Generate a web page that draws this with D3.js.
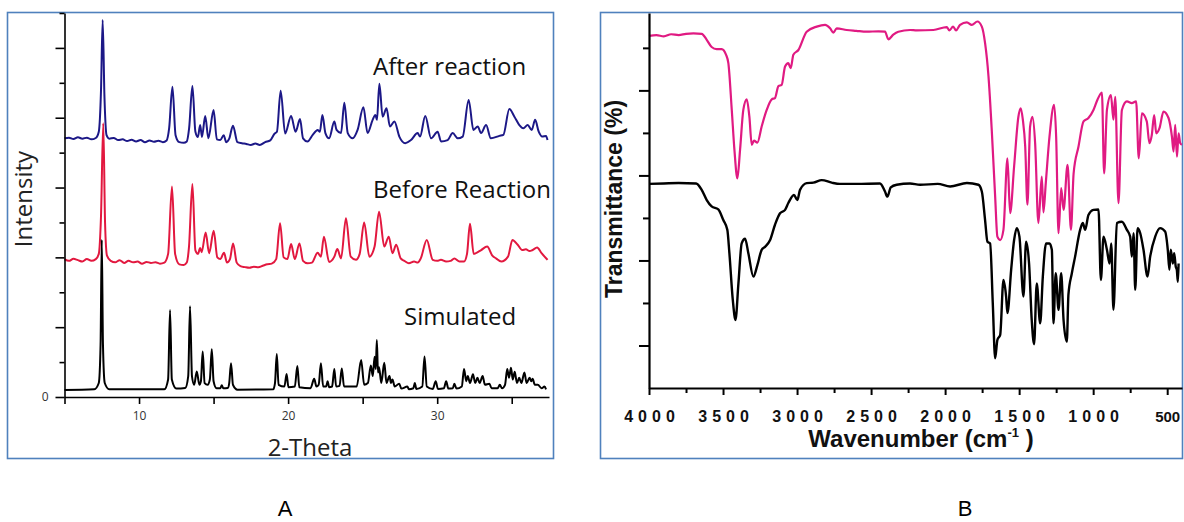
<!DOCTYPE html>
<html><head><meta charset="utf-8">
<script src="https://cdn.jsdelivr.net/npm/d3@7/dist/d3.min.js"></script>
<style>body{margin:0;background:#fff}svg{display:block}</style>
</head><body>
<svg id="c" width="1184" height="522"></svg>
<script>
// ---------- Panel A: PXRD ----------
const xrdXTicks = [5, 10, 15, 20, 25, 30, 35];
const xrdXLabels = [10, 20, 30];
const xrdYTicks = [0,1,2,3,4,5,6,7,8,9,10,11];
const xrdSeriesNames = ["After reaction", "Before Reaction", "Simulated"];
const simulated = [[5.0,0.2],[7.0,0.22],[7.3,0.4],[7.42,1.5],[7.5,4.5],[7.58,1.5],[7.7,0.4],[8.0,0.22],[11.7,0.22],[11.95,0.5],[12.08,2.49],[12.2,0.5],[12.5,0.24],[13.1,0.26],[13.3,0.6],[13.42,2.6],[13.55,0.6],[13.7,0.35],[13.87,0.73],[14.05,0.35],[14.15,0.45],[14.27,1.3],[14.4,0.4],[14.6,0.35],[14.75,0.5],[14.88,1.37],[15.0,0.45],[15.2,0.25],[15.45,0.25],[15.55,0.34],[15.65,0.25],[15.95,0.26],[16.05,0.4],[16.17,0.97],[16.3,0.35],[16.6,0.21],[19.0,0.22],[19.12,0.4],[19.24,1.23],[19.36,0.35],[19.75,0.3],[19.9,0.66],[20.02,0.28],[20.45,0.3],[20.62,0.89],[20.75,0.28],[21.5,0.25],[21.75,0.52],[21.9,0.3],[22.05,0.35],[22.2,0.97],[22.35,0.3],[22.55,0.3],[22.65,0.45],[22.75,0.28],[22.95,0.3],[23.1,0.8],[23.22,0.3],[23.45,0.32],[23.6,0.82],[23.75,0.3],[24.6,0.3],[24.9,1.06],[25.1,0.35],[25.35,0.4],[25.55,0.9],[25.68,0.6],[25.8,1.15],[25.88,0.8],[25.95,1.63],[26.03,0.7],[26.1,0.85],[26.25,0.4],[26.45,0.98],[26.6,0.4],[26.8,0.6],[26.9,0.4],[27.0,0.5],[27.15,0.3],[27.45,0.38],[27.6,0.24],[28.0,0.3],[28.1,0.22],[28.4,0.25],[28.5,0.4],[28.6,0.23],[29.0,0.3],[29.15,1.16],[29.3,0.3],[29.7,0.23],[29.9,0.45],[30.05,0.23],[30.45,0.25],[30.6,0.45],[30.75,0.24],[31.05,0.25],[31.15,0.38],[31.3,0.24],[31.65,0.3],[31.8,0.8],[31.95,0.45],[32.05,0.6],[32.2,0.4],[32.4,0.65],[32.55,0.4],[32.7,0.55],[32.85,0.4],[33.05,0.6],[33.2,0.35],[33.5,0.38],[33.65,0.25],[34.05,0.25],[34.2,0.35],[34.35,0.25],[34.55,0.35],[34.7,0.8],[34.82,0.55],[34.95,0.84],[35.07,0.5],[35.2,0.72],[35.35,0.4],[35.5,0.55],[35.65,0.4],[35.85,0.7],[36.0,0.4],[36.2,0.55],[36.3,0.45],[36.4,0.52],[36.55,0.35],[36.75,0.35],[37.0,0.25],[37.2,0.3],[37.3,0.22]];
const beforeReaction = [[5.0,3.95],[5.3,3.9],[5.6,3.96],[5.9,3.92],[6.2,3.88],[6.5,3.95],[6.8,3.9],[7.1,3.95],[7.3,4.1],[7.45,5.2],[7.6,7.84],[7.72,5.0],[7.85,4.05],[8.1,3.9],[8.4,3.86],[8.7,3.92],[9.0,3.84],[9.3,3.9],[9.6,3.86],[9.9,3.88],[10.2,3.82],[10.5,3.87],[10.8,3.84],[11.1,3.86],[11.4,3.82],[11.7,3.85],[11.95,4.1],[12.21,6.03],[12.42,4.1],[12.7,3.8],[13.0,3.78],[13.2,3.85],[13.35,4.3],[13.58,6.1],[13.78,4.2],[13.95,4.1],[14.1,4.27],[14.2,4.15],[14.47,4.71],[14.7,4.12],[15.01,4.76],[15.25,4.0],[15.45,3.95],[15.7,4.13],[15.9,3.85],[16.1,3.95],[16.31,4.4],[16.55,3.85],[16.8,3.75],[17.1,3.72],[17.4,3.7],[17.7,3.73],[18.0,3.72],[18.3,3.76],[18.6,3.8],[18.9,3.82],[19.2,3.95],[19.46,4.98],[19.7,4.0],[19.95,3.95],[20.2,4.38],[20.45,3.95],[20.76,4.4],[21.0,3.9],[21.3,3.83],[21.6,3.85],[21.98,4.13],[22.2,4.02],[22.4,4.59],[22.75,3.87],[23.1,4.02],[23.3,4.24],[23.55,3.97],[23.88,5.12],[24.2,4.02],[24.55,3.93],[24.8,4.1],[25.1,5.0],[25.45,4.02],[25.8,4.31],[26.1,5.31],[26.45,4.31],[26.75,4.59],[27.0,4.12],[27.25,4.36],[27.55,3.97],[27.8,3.9],[28.1,3.83],[28.45,3.88],[28.7,3.85],[28.9,3.97],[29.3,4.5],[29.7,3.93],[30.0,3.9],[30.25,3.93],[30.6,3.88],[30.9,3.9],[31.15,3.97],[31.5,3.88],[31.8,3.88],[32.0,4.1],[32.2,4.96],[32.45,4.1],[32.6,4.12],[32.95,4.21],[33.35,4.31],[33.7,4.05],[33.95,3.97],[34.3,3.88],[34.75,4.02],[35.05,4.5],[35.4,4.36],[35.7,4.21],[35.95,4.23],[36.2,4.18],[36.4,4.21],[36.7,4.28],[37.0,4.12],[37.4,3.93]];
const afterReaction = [[5.0,7.41],[5.3,7.43],[5.6,7.39],[5.9,7.44],[6.2,7.4],[6.5,7.43],[6.8,7.38],[7.1,7.42],[7.3,7.6],[7.45,8.8],[7.56,10.8],[7.68,8.6],[7.82,7.5],[8.0,7.4],[8.3,7.42],[8.6,7.36],[8.9,7.38],[9.2,7.33],[9.5,7.37],[9.8,7.32],[10.1,7.36],[10.4,7.3],[10.7,7.35],[11.0,7.31],[11.3,7.34],[11.6,7.3],[11.85,7.35],[12.02,7.7],[12.24,8.89],[12.45,7.5],[12.7,7.3],[13.0,7.28],[13.2,7.32],[13.36,7.7],[13.58,8.91],[13.78,7.6],[13.95,7.45],[14.1,7.79],[14.22,7.45],[14.44,8.05],[14.65,7.41],[15.0,8.22],[15.22,7.38],[15.45,7.36],[15.68,7.5],[15.85,7.3],[16.05,7.4],[16.3,7.77],[16.6,7.3],[16.9,7.27],[17.2,7.25],[17.5,7.22],[17.8,7.26],[18.1,7.22],[18.46,7.3],[18.8,7.35],[19.1,7.55],[19.25,7.6],[19.5,8.77],[19.8,7.55],[20.2,8.05],[20.5,7.6],[20.8,7.96],[21.0,7.41],[21.3,7.32],[21.65,7.51],[21.98,7.65],[22.13,7.6],[22.3,8.08],[22.5,7.56],[22.75,7.41],[23.1,7.89],[23.25,7.65],[23.55,7.56],[23.77,8.43],[24.0,7.56],[24.33,7.41],[24.66,7.65],[25.05,8.3],[25.33,7.56],[25.67,7.94],[25.85,8.08],[25.96,7.94],[26.12,8.97],[26.34,8.03],[26.6,8.27],[26.83,7.75],[27.13,7.89],[27.46,7.46],[27.86,7.27],[28.24,7.36],[28.69,7.56],[28.85,7.46],[29.2,8.05],[29.59,7.41],[30.03,7.6],[30.26,7.32],[30.7,7.36],[31.04,7.56],[31.38,7.41],[31.71,7.46],[32.11,8.51],[32.43,7.65],[32.72,7.75],[32.94,7.56],[33.28,7.79],[33.6,7.41],[34.17,7.48],[34.44,7.51],[34.84,8.25],[35.18,8.03],[35.51,7.79],[35.78,7.7],[36.07,7.79],[36.34,7.65],[36.57,7.94],[36.81,7.6],[37.04,7.46],[37.3,7.48],[37.4,7.36]];

// ---------- Panel B: FT-IR ----------
const irXTicks = [4000,3750,3500,3250,3000,2750,2500,2250,2000,1750,1500,1250,1000,750,500];
const irYTicks = [1,2,3,4,5,6,7,8];
const irUpper = [[4000,8.28],[3950,8.3],[3900,8.27],[3850,8.32],[3800,8.3],[3750,8.33],[3700,8.34],[3644,8.33],[3610,8.19],[3577,8.02],[3543,7.97],[3509,7.97],[3480,7.84],[3464,7.64],[3441,6.54],[3423,5.6],[3403,4.93],[3385,5.6],[3363,6.54],[3340,6.79],[3322,6.38],[3306,5.72],[3291,5.82],[3268,5.77],[3239,6.15],[3205,6.54],[3171,6.79],[3149,6.82],[3126,7.1],[3104,7.13],[3081,7.56],[3059,7.64],[3043,7.52],[3025,7.84],[2991,7.95],[2935,8.38],[2867,8.5],[2811,8.54],[2777,8.46],[2755,8.36],[2732,8.46],[2665,8.42],[2600,8.4],[2530,8.38],[2450,8.39],[2406,8.38],[2383,8.2],[2350,8.31],[2316,8.38],[2237,8.42],[2191,8.41],[2079,8.42],[1989,8.49],[1971,8.41],[1946,8.5],[1926,8.41],[1899,8.54],[1853,8.6],[1820,8.54],[1782,8.62],[1752,8.5],[1730,8.11],[1707,7.33],[1685,6.07],[1662,4.5],[1647,3.56],[1628,3.48],[1606,3.72],[1579,5.4],[1561,4.11],[1534,5.21],[1505,6.38],[1489,6.58],[1475,6.31],[1459,5.68],[1444,4.31],[1426,6.15],[1410,6.38],[1392,5.76],[1370,3.88],[1347,4.97],[1336,4.13],[1320,4.82],[1295,5.91],[1264,6.66],[1250,5.91],[1234,3.64],[1216,4.7],[1200,4.19],[1173,5.25],[1150,3.72],[1132,5.05],[1099,5.68],[1065,6.27],[1032,6.35],[998,6.54],[971,6.78],[941,6.95],[926,5.05],[907,6.54],[880,6.89],[863,6.31],[851,6.85],[829,4.35],[806,6.54],[772,6.74],[739,6.7],[710,6.74],[692,5.4],[671,6.46],[638,6.27],[620,5.76],[604,5.95],[588,6.42],[574,5.99],[552,6.11],[525,6.5],[491,6.35],[468,5.91],[457,5.56],[446,6.19],[434,5.44],[423,5.99],[412,5.76],[401,5.72]];
const irLower = [[4000,4.8],[3900,4.81],[3800,4.82],[3682,4.81],[3644,4.66],[3610,4.42],[3577,4.27],[3532,4.2],[3498,3.95],[3471,3.72],[3457,3.17],[3434,2.07],[3416,1.6],[3396,2.46],[3374,3.4],[3351,3.51],[3329,3.17],[3295,2.62],[3268,2.89],[3239,3.25],[3216,3.32],[3182,3.48],[3149,3.84],[3115,4.11],[3081,4.19],[3059,4.35],[3021,4.54],[2998,4.42],[2980,4.66],[2935,4.82],[2890,4.83],[2833,4.89],[2766,4.83],[2710,4.8],[2597,4.8],[2440,4.81],[2406,4.62],[2390,4.5],[2367,4.72],[2327,4.78],[2237,4.81],[2169,4.78],[2050,4.8],[1966,4.74],[1853,4.82],[1775,4.78],[1752,4.62],[1730,3.95],[1714,3.44],[1696,3.4],[1678,1.99],[1662,0.7],[1647,1.13],[1628,1.25],[1606,2.54],[1588,2.15],[1579,1.76],[1554,2.78],[1534,3.48],[1516,3.76],[1498,3.56],[1471,2.15],[1453,3.44],[1433,2.93],[1415,1.6],[1399,1.03],[1381,2.46],[1358,1.52],[1340,2.62],[1318,3.4],[1295,3.4],[1279,3.25],[1268,1.52],[1253,2.7],[1234,1.84],[1216,2.7],[1200,1.6],[1178,1.09],[1167,2.2],[1144,2.7],[1122,3.09],[1088,3.72],[1070,3.88],[1054,3.72],[1032,4.07],[998,4.19],[964,4.2],[948,2.54],[930,3.56],[907,3.25],[889,2.93],[878,3.4],[863,1.84],[840,3.88],[806,3.91],[772,3.72],[750,3.56],[739,3.09],[727,3.64],[716,2.31],[700,3.76],[682,3.64],[660,3.25],[633,2.62],[615,3.09],[581,3.56],[548,3.76],[514,3.68],[496,3.25],[485,2.78],[476,3.25],[462,2.93],[453,3.17],[442,2.85],[435,2.78],[428,2.5],[423,2.93]];

const svg = d3.select("#c");
svg.append("rect").attr("width",1184).attr("height",522).attr("fill","#fff");

// frames
svg.append("rect").attr("x",7.5).attr("y",12.5).attr("width",546).attr("height",446)
  .attr("fill","none").attr("stroke","#4f81bd").attr("stroke-width",1.6);
svg.append("rect").attr("x",600.5).attr("y",12.5).attr("width",582).attr("height",446)
  .attr("fill","none").attr("stroke","#4f81bd").attr("stroke-width",1.6);

// ---- Panel A ----
const xL = d3.scaleLinear().domain([5, 37.5]).range([64.5, 549]);
const yL = d3.scaleLinear().domain([0, 11]).range([397, 13]);
const gA = svg.append("g");
const lineL = d3.line().x(d => xL(d[0])).y(d => yL(d[1])).curve(d3.curveMonotoneX);
[[afterReaction,"#1c1887"],[beforeReaction,"#e2183f"],[simulated,"#000"]].forEach(([s,c]) => {
  gA.append("path").datum(s).attr("d", lineL).attr("fill","none").attr("stroke",c)
    .attr("stroke-width",2).attr("stroke-linejoin","round");
});
const yAxA = gA.append("g").attr("transform","translate(64.5,0)")
  .call(d3.axisLeft(yL).tickValues(xrdYTicks).tickSize(9).tickSizeOuter(0).tickFormat(d => d === 0 ? "0" : ""));
yAxA.selectAll(".tick line").attr("x2", d => d % 2 === 0 ? -9 : -5);
const xAxA = gA.append("g").attr("transform","translate(0,397)")
  .call(d3.axisBottom(xL).tickValues(xrdXTicks).tickSize(7).tickSizeOuter(0)
    .tickFormat(d => xrdXLabels.includes(d) ? d : ""));
[yAxA, xAxA].forEach(a => {
  a.select(".domain").attr("stroke","#000").attr("stroke-width",1.6);
  a.selectAll(".tick line").attr("stroke","#000").attr("stroke-width",1.6);
  a.selectAll("text").attr("font-family","Open Sans").attr("font-size",12).attr("fill","#333");
});
xAxA.selectAll("text").attr("y",14).attr("dy","0.71em");
yAxA.selectAll("text").attr("x",-16);
gA.append("text").attr("x",310).attr("y",456).attr("text-anchor","middle")
  .attr("font-family","Open Sans").attr("font-size",24).attr("fill","#222").text("2-Theta");
gA.append("text").attr("transform","translate(32,199) rotate(-90)").attr("text-anchor","middle")
  .attr("font-family","Open Sans").attr("font-size",24).attr("fill","#222").text("Intensity");
const labelPos = [[373,75],[373,198],[404,325]];
xrdSeriesNames.forEach((n,i) => {
  gA.append("text").attr("x",labelPos[i][0]).attr("y",labelPos[i][1])
    .attr("font-family","Open Sans").attr("font-size",24).attr("fill","#111").text(n);
});

// ---- Panel B ----
const xR = d3.scaleLinear().domain([4000, 400]).range([649, 1182]);
const yR = d3.scaleLinear().domain([0, 8.82]).range([388, 13]);
const gB = svg.append("g");
const lineR = d3.line().x(d => xR(d[0])).y(d => yR(d[1])).curve(d3.curveMonotoneX);
gB.append("path").datum(irUpper).attr("d", lineR).attr("fill","none").attr("stroke","#e01a82")
  .attr("stroke-width",2.2).attr("stroke-linejoin","round");
gB.append("path").datum(irLower).attr("d", lineR).attr("fill","none").attr("stroke","#000")
  .attr("stroke-width",2.4).attr("stroke-linejoin","round");
const yAxB = gB.append("g").attr("transform","translate(649,0)")
  .call(d3.axisLeft(yR).tickValues(irYTicks).tickSize(10).tickSizeOuter(0).tickFormat(""));
yAxB.selectAll(".tick line").attr("x2", d => d % 2 === 1 ? -10 : -6);
const xAxB = gB.append("g").attr("transform","translate(0,388)")
  .call(d3.axisBottom(xR).tickValues(irXTicks).tickSize(7).tickSizeOuter(0)
    .tickFormat(d => d % 500 === 0 ? d : ""));
xAxB.selectAll(".tick line").attr("y2", d => d % 500 === 0 ? 7 : 5);
[yAxB, xAxB].forEach(a => {
  a.select(".domain").attr("stroke","#000").attr("stroke-width",2.2);
  a.selectAll(".tick line").attr("stroke","#000").attr("stroke-width",2);
});
xAxB.selectAll("text").attr("y",34).attr("dy",0)
  .attr("font-family","Liberation Sans, Arial").attr("font-weight","bold").attr("fill","#111")
  .attr("font-size", d => d === 500 ? 15 : 16)
  .style("letter-spacing", d => d === 500 ? "0px" : "5px")
  .attr("dx", d => d === 500 ? 0 : 2.5);
gB.append("text").attr("x",921).attr("y",447).attr("text-anchor","middle")
  .attr("font-family","Liberation Sans, Arial").attr("font-weight","bold").attr("font-size",24).attr("fill","#111")
  .call(t => {
    t.append("tspan").text("Wavenumber (cm");
    t.append("tspan").attr("font-size",13).attr("dy",-10).text("-1");
    t.append("tspan").attr("dy",10).text(" )");
  });
gB.append("text").attr("transform","translate(622,199) rotate(-90)").attr("text-anchor","middle")
  .attr("font-family","Liberation Sans, Arial").attr("font-weight","bold").attr("font-size",23).attr("fill","#111")
  .text("Transmittance (%)");

// panel letters
svg.append("text").attr("x",285).attr("y",516).attr("text-anchor","middle")
  .attr("font-family","Liberation Sans, Arial").attr("font-size",22).attr("fill","#000").text("A");
svg.append("text").attr("x",965).attr("y",516).attr("text-anchor","middle")
  .attr("font-family","Liberation Sans, Arial").attr("font-size",22).attr("fill","#000").text("B");
</script>
</body></html>
